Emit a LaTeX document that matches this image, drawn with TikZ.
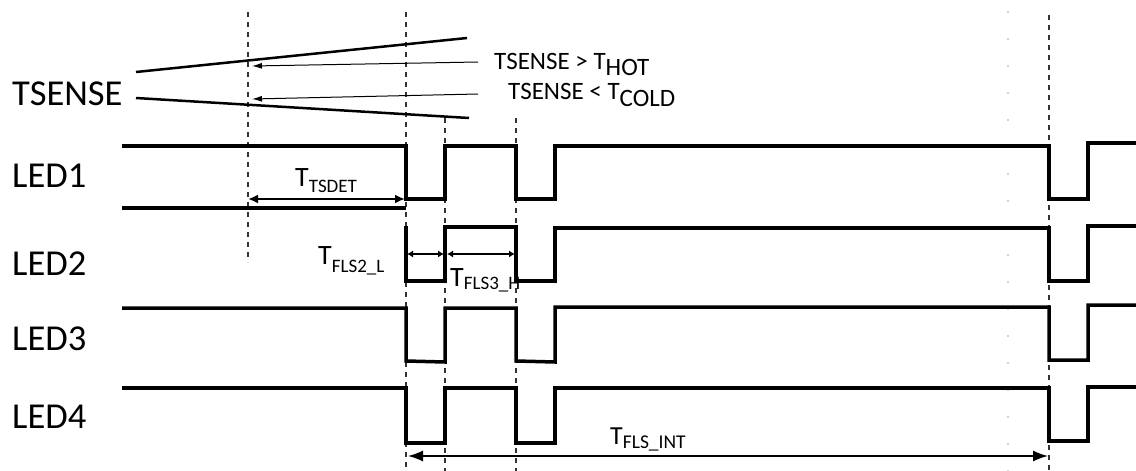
\documentclass[tikz,border=0pt]{standalone}
\usepackage{fontspec}
\setmainfont{Carlito}
\usetikzlibrary{arrows.meta}
\newcommand\mysub[3]{\raisebox{-#1pt}{\fontsize{#2}{#2}\selectfont #3}}
\begin{document}
\begin{tikzpicture}[x=1pt,y=-1pt,
  wave/.style={line width=3.5pt, line join=miter},
  sense/.style={line width=2.5pt},
  vdash/.style={line width=1.5pt, black!80, dash pattern=on 5pt off 5pt},
  faint/.style={line width=2pt, black!18, dash pattern=on 2pt off 25pt},
  big/.style={anchor=base west, inner sep=0pt, font=\fontsize{36.5}{40}\selectfont},
  mid/.style={anchor=base west, inner sep=0pt, font=\fontsize{25}{28}\selectfont},
  tlab/.style={anchor=base west, inner sep=0pt, font=\fontsize{28}{30}\selectfont},
  thinarrow/.style={line width=1pt, -{Latex[length=10pt,width=6pt]}},
  dimA/.style={line width=2.5pt, {Latex[length=10pt,width=9pt]}-{Latex[length=10pt,width=9pt]}},
  dimB/.style={line width=1.8pt, {Latex[length=6pt,width=7pt]}-{Latex[length=6pt,width=7pt]}},
  dimC/.style={line width=1.5pt, {Latex[length=15pt,width=11pt]}-{Latex[length=15pt,width=11pt]}}
]
\useasboundingbox (0,0) rectangle (1136,471);

% faint dotted guide
\draw[faint] (1008,11) -- (1008,471);

% dashed timing markers
\coordinate (d0t) at (248,12);  \coordinate (d0b) at (248,262);
\coordinate (d1t) at (406,12);  \coordinate (d1b) at (406,471);
\coordinate (d2t) at (445,118); \coordinate (d2b) at (445,471);
\coordinate (d3t) at (516,118); \coordinate (d3b) at (516,471);
\coordinate (d4t) at (1049,15); \coordinate (d4b) at (1049,471);
\draw[vdash] (d0t) -- (d0b);
\draw[vdash] (d1t) -- (d1b);
\draw[vdash] (d2t) -- (d2b);
\draw[vdash] (d3t) -- (d3b);
\draw[vdash] (d4t) -- (d4b);

% labels
\node[big] (tsense) at (12,105) {TSENSE};
\node[big] (led1) at (12,187) {LED1};
\node[big] (led2) at (12,275) {LED2};
\node[big] (led3) at (12,350) {LED3};
\node[big] (led4) at (12,428) {LED4};

% TSENSE lines
\draw[sense] (136,72) -- (467,38);
\draw[sense] (136,98) -- (469,118);

% TSENSE threshold arrows
\node[mid] (hot) at (494,69) {TSENSE > T\mysub{6}{25}{HOT}};
\node[mid] (cold) at (508,99) {TSENSE < T\mysub{7}{25}{COLD}};
\coordinate (h1) at (478,62); \coordinate (h2) at (252,66);
\coordinate (c1) at (478,94); \coordinate (c2) at (252,99);
\draw[thinarrow] (h1) -- (h2);
\draw[thinarrow] (c1) -- (c2);

% LED1
\draw[wave] (122,146) -- (406,146) -- (406,199) -- (445,199) -- (445,146) -- (516,146) -- (516,199) -- (555,199) -- (555,146) -- (1049,146) -- (1049,199) -- (1088,199) -- (1088,143) -- (1136,143);
\draw[wave] (122,208) -- (406,208);

% LED2
\draw[wave] (406,226) -- (406,281) -- (445,281) -- (445,227) -- (516,227) -- (516,281) -- (555,281) -- (555,228) -- (1049,228) -- (1049,281) -- (1088,281) -- (1088,226) -- (1136,226);

% LED3
\draw[wave] (122,308) -- (406,308) -- (406,361) -- (445,362) -- (445,308) -- (516,308) -- (516,361) -- (555,362) -- (555,307) -- (1049,307) -- (1049,360) -- (1088,360) -- (1088,305) -- (1136,305);

% LED4
\draw[wave] (122,388) -- (406,388) -- (406,443) -- (445,443) -- (445,388) -- (516,388) -- (516,443) -- (555,443) -- (555,388) -- (1049,388) -- (1049,441) -- (1088,441) -- (1088,387) -- (1136,387);

% dimension arrows
\coordinate (ts1) at (248,199); \coordinate (ts2) at (405,199);
\draw[dimA] (ts1) -- (ts2);
\node[tlab] (ttsdet) at (295,186) {T\mysub{6}{19}{TSDET}};

\coordinate (f2a) at (407,254); \coordinate (f2b) at (444,254);
\draw[dimB] (f2a) -- (f2b);
\node[tlab] (tfls2) at (318,264) {T\mysub{8}{19}{FLS2\_L}};

\coordinate (f3a) at (447,254); \coordinate (f3b) at (515,254);
\draw[dimB] (f3a) -- (f3b);
\node[tlab] (tfls3) at (450,286) {T\mysub{3}{19}{FLS3\_H}};

\coordinate (fi1) at (408,456); \coordinate (fi2) at (1048,456);
\draw[dimC] (fi1) -- (fi2);
\node[tlab, font=\fontsize{26}{28}\selectfont] (tflsint) at (610,444) {T\mysub{4}{19.5}{FLS\_INT}};

\end{tikzpicture}
\end{document}
